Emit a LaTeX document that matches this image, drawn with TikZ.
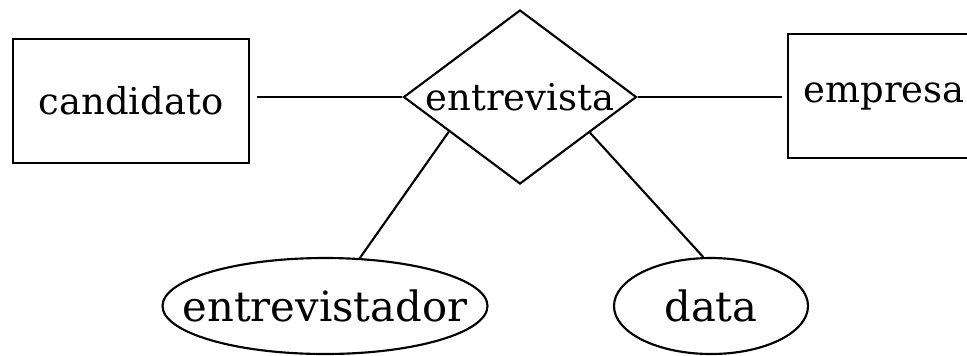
\documentclass[tikz,border=0pt]{standalone}
\usepackage{fontspec}
\setmainfont{DejaVu Serif}
\usetikzlibrary{shapes.geometric}
\tikzstyle{entidade}=[rectangle,draw=black,line width=1.6pt,inner sep=0pt,font=\fontsize{27.7}{32}\selectfont]
\tikzstyle{relacao}=[diamond,draw=black,line width=1.6pt,inner sep=0pt,aspect=1.34,minimum width=174.75pt,minimum height=130.5pt,font=\fontsize{27.7}{32}\selectfont]
\tikzstyle{atributo}=[ellipse,draw=black,line width=1.6pt,inner ysep=0pt,inner xsep=-60pt,minimum height=72pt,font=\fontsize{31.3}{36}\selectfont]
\tikzstyle{liga}=[line width=1.6pt]

\begin{document}
\begin{tikzpicture}[x=0.75pt,y=-0.75pt]
		\useasboundingbox (0,0) rectangle (967,355);
		\node (cand) at (131,101) [entidade,minimum width=177pt,minimum height=93pt] {candidato};
		\node (entr) at (520,97) [relacao] {entrevista};
		\node (emp) at (884,96) [entidade,minimum width=144pt,minimum height=93pt] {empresa};
		\node (entv) at (325,306) [atributo,minimum width=243.75pt] {entrevistador};
		\node (dat) at (711,306) [atributo,minimum width=145.5pt] {data};
		
		\draw [liga,shorten <=5pt] (cand.east |- entr.west)--(entr.west);
		\draw [liga,shorten >=4pt] (entr.east)--(emp.west |- entr.east);
		\draw [liga] (entr.206)--(entv.54);
		\draw [liga] (entr.333)--(dat.99);
	\end{tikzpicture}
\end{document}
